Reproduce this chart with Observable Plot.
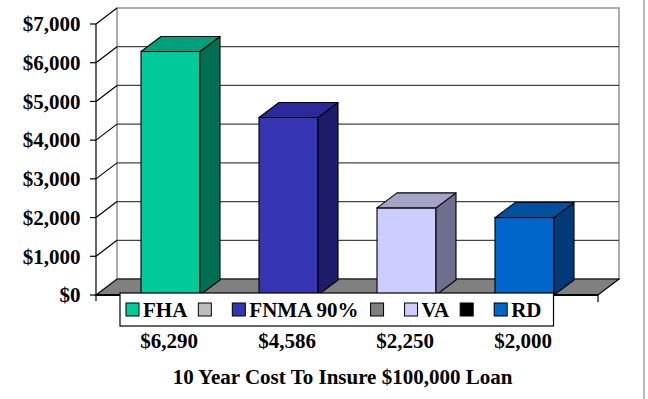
<!DOCTYPE html>
<html><head><meta charset="utf-8">
<script src="https://cdn.jsdelivr.net/npm/d3@7"></script>
<script src="https://cdn.jsdelivr.net/npm/@observablehq/plot@0.6"></script>
<style>
body{margin:0;background:#fff;}
#chart{position:relative;width:648px;height:399px;overflow:hidden;background:#fff}
</style></head><body><div id="chart"></div>
<script>
// ---- data ----
const categories = ["FHA", "FNMA 90%", "VA", "RD"];
const values = [6290, 4586, 2250, 2000];
const valueLabels = ["$6,290", "$4,586", "$2,250", "$2,000"];
const yTicks = [0, 1000, 2000, 3000, 4000, 5000, 6000, 7000];
const frontColors = ["#00C99A", "#3636B4", "#CCCCFF", "#0066CC"];
const sideColors = ["#006E52", "#1C1C6A", "#6E6E8E", "#003A78"];
const topColors = ["#00A07A", "#2A2A9C", "#A3A3C6", "#00509E"];
const legendLabels = ["FHA", "", "FNMA 90%", "", "VA", "", "RD"];
const legendColors = ["#00C99A", "#BDBDBD", "#3636B4", "#808080", "#CCCCFF", "#000000", "#0066CC"];
const title = "10 Year Cost To Insure $100,000 Loan";

const FONT = "'Liberation Serif','Times New Roman',serif";
const FS = 21;
const WDX = 21, WDY = 16;   // wall depth
const BDX = 20, BDY = 15;   // bar depth

function walls(index, scales, vals, dims) {
  const {y} = scales;
  const g = d3.create("svg:g");
  const L = dims.marginLeft, R = dims.width - dims.marginRight;
  const y0 = y(0), yTop = y(yTicks[yTicks.length - 1]);
  g.append("rect").attr("x", L + WDX).attr("y", yTop - WDY).attr("width", R - L)
    .attr("height", y0 - yTop).attr("fill", "#fff").attr("stroke", "#808080").attr("stroke-width", 1.3);
  for (const t of yTicks.slice(1, -1)) {
    g.append("line").attr("x1", L + WDX).attr("x2", R + WDX).attr("y1", y(t) - WDY).attr("y2", y(t) - WDY)
      .attr("stroke", "#444").attr("stroke-width", 1.3);
  }
  for (const t of yTicks.slice(1)) {
    g.append("line").attr("x1", L).attr("y1", y(t)).attr("x2", L + WDX).attr("y2", y(t) - WDY)
      .attr("stroke", "#000").attr("stroke-width", 1.2);
  }
  g.append("polygon")
    .attr("points", [[L, y0], [L + WDX, y0 - WDY], [R + WDX, y0 - WDY], [R, y0]].map(p => p.join(",")).join(" "))
    .attr("fill", "#808080").attr("stroke", "#000").attr("stroke-width", 1.2);
  g.append("line").attr("x1", L).attr("x2", R).attr("y1", y0).attr("y2", y0).attr("stroke", "#000").attr("stroke-width", 2);
  g.append("line").attr("x1", L).attr("x2", L).attr("y1", yTop).attr("y2", y0 + 6).attr("stroke", "#000").attr("stroke-width", 1.2);
  g.append("line").attr("x1", R).attr("x2", R).attr("y1", y0).attr("y2", y0 + 7).attr("stroke", "#000").attr("stroke-width", 1.2);
  g.append("line").attr("x1", dims.width - 4).attr("x2", dims.width - 4).attr("y1", 0).attr("y2", dims.height)
    .attr("stroke", "#B8B8B8").attr("stroke-width", 2);
  // front tick marks
  for (const t of yTicks) {
    g.append("line").attr("x1", L - 6).attr("x2", L).attr("y1", y(t)).attr("y2", y(t))
      .attr("stroke", "#000").attr("stroke-width", 1.2);
  }
  return g.node();
}

function barDepth(index, scales, vals, dims) {
  const {x, y} = scales;
  const g = d3.create("svg:g").attr("stroke", "#000").attr("stroke-width", 1.1).attr("stroke-linejoin", "round");
  const bw = x.bandwidth();
  categories.forEach((c, i) => {
    const x0 = x(c), x1 = x0 + bw, yt = y(values[i]), yb = y(0);
    g.append("polygon")
      .attr("points", [[x1, yt], [x1 + BDX, yt - BDY], [x1 + BDX, yb - BDY], [x1, yb]].map(p => p.join(",")).join(" "))
      .attr("fill", sideColors[i]);
    g.append("polygon")
      .attr("points", [[x0, yt], [x1, yt], [x1 + BDX, yt - BDY], [x0 + BDX, yt - BDY]].map(p => p.join(",")).join(" "))
      .attr("fill", topColors[i]);
  });
  return g.node();
}

const measure = document.createElement("canvas").getContext("2d");
measure.font = `bold ${FS}px ${FONT}`;

function legend(index, scales, vals, dims) {
  const {y} = scales;
  const L = dims.marginLeft;
  const top = y(0) - 2;
  const g = d3.create("svg:g");
  const sw = 13;
  let cx = L + 30;
  const items = [];
  legendLabels.forEach((lab, i) => {
    items.push({x: cx, lab, color: legendColors[i]});
    cx += sw;
    if (lab) { cx += 4 + measure.measureText(lab).width + 11; }
    else cx += 21;
  });
  const right = cx - 11 + 12;
  g.append("rect").attr("x", L + 24).attr("y", top).attr("width", right - (L + 24)).attr("height", 33)
    .attr("fill", "#fff").attr("stroke", "#000").attr("stroke-width", 1.2);
  for (const it of items) {
    g.append("rect").attr("x", it.x).attr("y", top + 10).attr("width", sw).attr("height", sw)
      .attr("fill", it.color).attr("stroke", "#000").attr("stroke-width", 1);
    if (it.lab) {
      g.append("text").attr("x", it.x + sw + 4).attr("y", top + 17).attr("dy", "0.35em")
        .attr("text-anchor", "start")
        .attr("font-size", FS).attr("font-weight", "bold").attr("font-family", FONT).attr("fill", "#000")
        .text(it.lab);
    }
  }
  return g.node();
}

const chart = Plot.plot({
  width: 648,
  height: 399,
  marginLeft: 96,
  marginRight: 50,
  marginTop: 24,
  marginBottom: 104,
  style: {fontFamily: FONT, fontSize: FS + "px", fontWeight: "bold", color: "#000", background: "#fff", overflow: "visible"},
  x: {type: "band", domain: categories, paddingInner: 0.5, paddingOuter: 0.37, axis: null},
  y: {domain: [0, 7000], axis: null},
  color: {type: "identity"},
  marks: [
    walls,
    Plot.text(yTicks, {y: d => d, frameAnchor: "left", dx: -16, textAnchor: "end", text: d3.format("$,"),
      fontSize: FS, fontWeight: "bold", fill: "#000"}),
    Plot.barY(categories, {x: d => d, y: (d, i) => values[i], fill: (d, i) => frontColors[i], stroke: "#000", strokeWidth: 1.1}),
    barDepth,
    legend,
    Plot.text(categories, {x: d => d, y: () => 0, text: (d, i) => valueLabels[i], dy: 46, dx: -2,
      fontSize: FS, fontWeight: "bold", fill: "#000"}),
    Plot.text([title], {frameAnchor: "bottom", text: d => d, dy: 88, dx: -5, fontSize: FS, fontWeight: "bold", fill: "#000"})
  ]
});
document.getElementById("chart").appendChild(chart);
</script>
</body></html>
